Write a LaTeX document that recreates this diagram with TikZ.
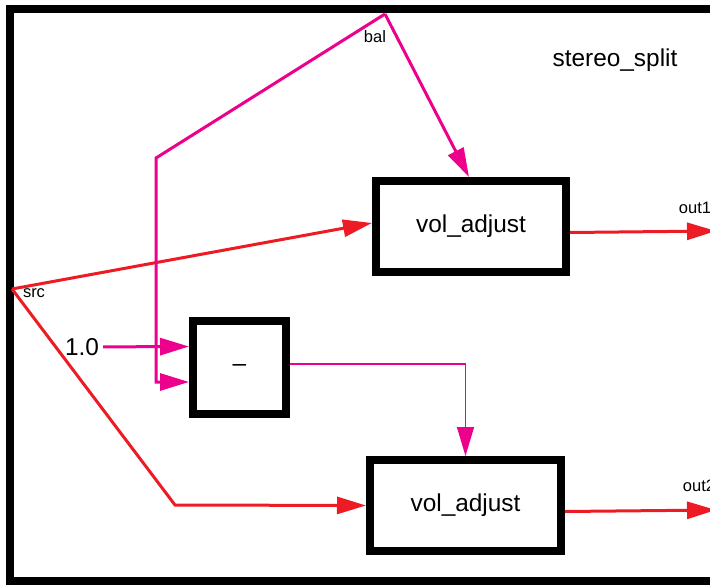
\documentclass[tikz,border=0pt]{standalone}
\usepackage{fontspec}
\setmainfont{Liberation Sans}
\usetikzlibrary{arrows.meta}
\definecolor{wirered}{RGB}{237,28,36}
\definecolor{wiremag}{RGB}{236,0,140}

\begin{document}
\begin{tikzpicture}[x=1pt,y=-1pt,
	blk/.style={draw=black,line width=8pt,inner sep=0pt,font=\fontsize{24.4}{28}\selectfont},
	lbl/.style={inner sep=0pt,font=\fontsize{16.5}{19}\selectfont},
	sig/.style={line width=3pt,-{Triangle[length=29pt,width=17pt]}},
	]
	\useasboundingbox (0,0) rectangle (710,586);
	\draw[line width=8pt] (10,9) rectangle (740,581);
	\node[lbl,font=\fontsize{24.4}{28}\selectfont] (name) at (615,60) {stereo\_split};
	\node[blk,minimum width=190pt,minimum height=91pt] (vol1) at (471,226.5) {vol\_adjust};
	\node[blk,minimum width=191pt,minimum height=91pt] (vol2) at (465.5,505.5) {vol\_adjust};
	\node[blk,minimum width=93pt,minimum height=93pt] (minus) at (239.5,367.5) {–};
	\node[lbl,font=\fontsize{24.4}{28}\selectfont,inner sep=4pt] (one) at (82,347) {1.0};
	\coordinate (src) at (12,289);
	\coordinate (bal) at (385,14);
	\coordinate (bend) at (156,158);
	\coordinate (kink) at (175,505);
	\coordinate (out1) at (716,231);
	\coordinate (out2) at (716,510);
	\node[lbl] (srcl) at (34,293) {src};
	\node[lbl] (ball) at (375,37) {bal};
	\node[lbl] (o1) at (695,208) {out1};
	\node[lbl] (o2) at (699,486) {out2};
	% audio wires
	\draw[sig,wirered](src)--([yshift=3.5pt]vol1.west);
	\draw[sig,wirered](src)--(kink)--(vol2.west);
	\draw[sig,wirered]([yshift=-6pt]vol1.east)--(out1);
	\draw[sig,wirered]([yshift=-6pt]vol2.east)--(out2);
	% balance wires
	\draw[sig,wiremag](bal)--([xshift=-2pt]vol1.north);
	\draw[sig,wiremag](bal)--(bend)|-([yshift=-14.5pt]minus.west);
	\draw[sig,wiremag](one)--([yshift=21pt]minus.west);
	\draw[sig,wiremag,line width=1.5pt]([yshift=3.5pt]minus.east)-|(vol2.north);
\end{tikzpicture}
\end{document}
